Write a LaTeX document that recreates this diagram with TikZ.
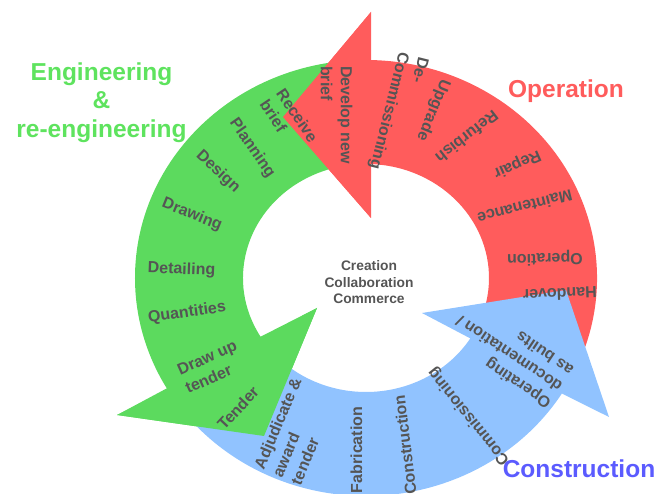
\documentclass[tikz,border=0pt]{standalone}
\usepackage{fontspec}
\setmainfont{Liberation Sans}
\usetikzlibrary{calc}
\definecolor{opred}{HTML}{FF5C5C}
\definecolor{engreen}{HTML}{5CDA5E}
\definecolor{engtitle}{HTML}{5EE35E}
\definecolor{conblue}{HTML}{91C3FF}
\definecolor{contitle}{HTML}{5B5BFF}
\definecolor{labelgray}{HTML}{555555}

\begin{document}
\begin{tikzpicture}[
  x=1pt, y=1pt,
  lbl/.style={font=\bfseries\fontsize{16}{20}\selectfont, text=labelgray, align=left, inner sep=0pt},
  hub/.style={font=\bfseries\fontsize{13.8}{16.5}\selectfont, text=labelgray, align=center, inner sep=0pt},
  phase/.style={font=\bfseries\fontsize{24.5}{28.5}\selectfont, align=center, inner sep=0pt}
]
\useasboundingbox (0,0) rectangle (657,494);
\coordinate (c) at (366,216);
% arrow heads: outer corner, tip, inner corner
\coordinate (rO) at (371,482); \coordinate (rT) at (283,377); \coordinate (rI) at (371,276);
\coordinate (gO) at (117,79);  \coordinate (gT) at (264,58);  \coordinate (gI) at (317,186);
\coordinate (bO) at (609,77);  \coordinate (bT) at (566,204); \coordinate (bI) at (422,181);

% the three bands
\fill[opred] ($(c)+(-28:231 and 218)$) arc[start angle=-28, end angle=89, x radius=231, y radius=218]
  -- (rO) -- (rT) -- (rI) -- ($(c)+(89:123 and 114)$)
  arc[start angle=89, end angle=-28, x radius=123, y radius=114] -- cycle;
\fill[engreen] ($(c)+(93:231 and 218)$) arc[start angle=93, end angle=211, x radius=231, y radius=218]
  -- (gO) -- (gT) -- (gI) -- ($(c)+(211:123 and 114)$)
  arc[start angle=211, end angle=93, x radius=123, y radius=114] -- cycle;
\fill[conblue] ($(c)+(222:231 and 218)$) arc[start angle=222, end angle=328, x radius=231, y radius=218]
  -- (bO) -- (bT) -- (bI) -- ($(c)+(328:123 and 114)$)
  arc[start angle=328, end angle=222, x radius=123, y radius=114] -- cycle;
% heads go over the next band
\fill[opred] (rO) -- (rT) -- (rI) -- cycle;
\fill[engreen] (gO) -- (gT) -- (gI) -- cycle;

% operation
\node[lbl, rotate=-90] (devbrief) at (336.5,379) {Develop new\\brief};
\node[lbl, rotate=-104] (decomm) at (398,381) {De-\\Commissioning};
\node[lbl, rotate=-112] (upgrade) at (433,384) {Upgrade};
\node[lbl, rotate=-142] (refurb) at (467,357) {Refurbish};
\node[lbl, rotate=-156] (repair) at (517,330) {Repair};
\node[lbl, rotate=-166] (maint) at (525,287) {Maintenance};
\node[lbl, rotate=-179] (operation) at (545,236) {Operation};
\node[lbl, rotate=-178] (handover) at (560,200) {Handover};
% engineering
\node[lbl, rotate=-56] (recv) at (289,373) {Receive\\brief};
\node[lbl, rotate=-55] (plan) at (252,346) {Planning};
\node[lbl, rotate=-43] (design) at (218,322) {Design};
\node[lbl, rotate=-22] (drawing) at (192,279) {Drawing};
\node[lbl, rotate=-2] (detail) at (181.5,224) {Detailing};
\node[lbl, rotate=8] (quant) at (187,181) {Quantities};
\node[lbl, rotate=24] (drawup) at (211,127) {Draw up\\tender};
\node[lbl, rotate=47] (tender) at (238,86) {Tender};
% construction
\node[lbl, rotate=67] (adjud) at (296,63) {Adjudicate \&\\award\\tender};
\node[lbl, rotate=90] (fab) at (356.5,44) {Fabrication};
\node[lbl, rotate=97] (constr) at (405,49) {Construction};
\node[lbl, rotate=129] (commis) at (469,77.5) {Commissioning};
\node[lbl, rotate=146] (opdocs) at (509,140) {Operating\\documentation /\\as builts};

\node[hub] (hubtext) at (369,211.5) {Creation\\Collaboration\\Commerce};

\node[phase, text=engtitle] (engtitle) at (101.5,391.5) {Engineering\\\&\\re-engineering};
\node[phase, text=opred, anchor=base] (optitle) at (566,396) {Operation};
\node[phase, text=contitle, anchor=base] (contitle) at (579,16) {Construction};
\end{tikzpicture}
\end{document}
